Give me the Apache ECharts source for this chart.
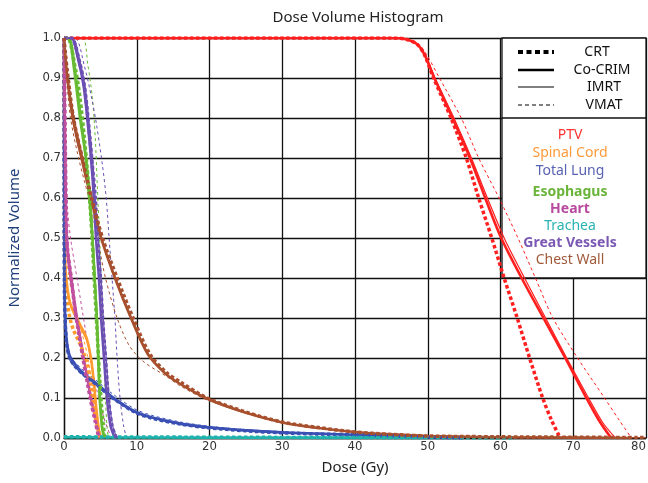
<!DOCTYPE html>
<html>
<head>
<meta charset="utf-8">
<script src="https://cdn.jsdelivr.net/npm/echarts@6/dist/echarts.min.js"></script>
<style>
  html, body { margin: 0; padding: 0; background: #fff; }
  #chart { width: 648px; height: 483px; }
</style>
</head>
<body>
<div id="chart"></div>
<script>
// dose (Gy), normalized volume pairs
const ptvCRT = [[0, 1], [45, 1], [47, 0.997], [48.5, 0.985], [49.5, 0.96], [50.8, 0.9], [53.2, 0.8], [55.3, 0.7], [57, 0.6], [58.8, 0.5], [60.5, 0.4], [62.3, 0.3], [64, 0.2], [65.8, 0.1], [67, 0.045], [68.2, 0]]
const ptvCoCRIM = [[0, 1], [45, 1], [47, 0.997], [48.5, 0.985], [49.5, 0.96], [50.9, 0.9], [53.4, 0.8], [55.8, 0.7], [57.9, 0.6], [60.1, 0.5], [62.9, 0.4], [65.9, 0.3], [68.9, 0.2], [71.8, 0.1], [73.5, 0.045], [75.2, 0]]
const ptvIMRT = [[0, 1], [45, 1], [47, 0.997], [48.5, 0.985], [49.6, 0.96], [51, 0.9], [53.6, 0.8], [56, 0.7], [58.2, 0.6], [60.5, 0.5], [63.3, 0.4], [66.2, 0.3], [69.1, 0.2], [72.1, 0.1], [74, 0.04], [75.8, 0]]
const ptvVMAT = [[0, 1], [45, 1], [47, 0.997], [48.7, 0.985], [49.8, 0.96], [51.6, 0.9], [54.6, 0.8], [57, 0.7], [59.8, 0.6], [62.4, 0.5], [64.8, 0.4], [67.2, 0.3], [70.6, 0.2], [74.3, 0.1], [76.3, 0.045], [78, 0]]

const cordCRT = [[0, 1], [0.03, 0.7], [0.06, 0.5], [0.1, 0.44], [0.3, 0.38], [0.7, 0.31], [1.3, 0.27], [2.2, 0.235], [3.1, 0.19], [3.7, 0.13], [4.2, 0.07], [4.7, 0.02], [5, 0]]
const cordCoCRIM = [[0, 1], [0.03, 0.7], [0.06, 0.52], [0.1, 0.46], [0.3, 0.4], [0.8, 0.34], [1.5, 0.31], [2.3, 0.28], [3.1, 0.25], [3.7, 0.2], [4.1, 0.14], [4.4, 0.08], [4.8, 0.02], [5.1, 0]]
const cordIMRT = [[0, 1], [0.03, 0.7], [0.06, 0.5], [0.1, 0.45], [0.35, 0.39], [0.9, 0.33], [1.6, 0.3], [2.4, 0.27], [3.2, 0.24], [3.8, 0.19], [4.2, 0.13], [4.5, 0.07], [4.9, 0]]
const cordVMAT = [[0, 1], [0.05, 0.7], [0.1, 0.52], [0.3, 0.46], [0.7, 0.4], [1.3, 0.34], [2, 0.29], [2.8, 0.24], [3.4, 0.19], [3.9, 0.13], [4.4, 0.06], [5, 0]]

const lungCRT = [[0, 1], [0.02, 0.6], [0.05, 0.4], [0.15, 0.3], [0.4, 0.23], [0.8, 0.2], [1.5, 0.18], [2.6, 0.16], [4.7, 0.13], [6.7, 0.1], [9.7, 0.065], [12, 0.05], [16, 0.035], [19.7, 0.026], [25, 0.018], [30, 0.013], [35, 0.01], [40, 0.008], [45, 0.005], [50, 0.002], [55, 0]]
const lungCoCRIM = [[0, 1], [0.02, 0.62], [0.05, 0.42], [0.15, 0.31], [0.4, 0.24], [0.8, 0.205], [1.5, 0.185], [2.6, 0.163], [4.7, 0.133], [6.7, 0.102], [9.7, 0.067], [12, 0.052], [16, 0.036], [19.7, 0.027], [25, 0.019], [30, 0.014], [35, 0.011], [40, 0.008], [45, 0.005], [50, 0.002], [55, 0]]
const lungIMRT = [[0, 1], [0.02, 0.58], [0.05, 0.38], [0.15, 0.29], [0.4, 0.225], [0.8, 0.195], [1.5, 0.178], [2.6, 0.158], [4.7, 0.128], [6.7, 0.098], [9.7, 0.064], [12, 0.05], [16, 0.034], [19.7, 0.025], [25, 0.018], [30, 0.013], [35, 0.01], [40, 0.007], [45, 0.004], [50, 0.002], [55, 0]]
const lungVMAT = [[0, 1], [0.02, 0.6], [0.05, 0.4], [0.15, 0.3], [0.4, 0.235], [0.8, 0.205], [1.5, 0.19], [2.6, 0.17], [4.7, 0.14], [6.7, 0.11], [9.7, 0.073], [12, 0.057], [16, 0.04], [19.7, 0.03], [25, 0.021], [30, 0.015], [35, 0.011], [40, 0.008], [45, 0.005], [50, 0.002], [55, 0]]

const esoCRT = [[0, 1], [0.5, 1], [1.5, 0.93], [2.2, 0.85], [2.8, 0.75], [3.3, 0.65], [3.7, 0.55], [4, 0.45], [4.3, 0.35], [4.6, 0.25], [4.9, 0.15], [5.2, 0.07], [5.6, 0]]
const esoCoCRIM = [[0, 1], [0.6, 1], [1.4, 0.92], [2.2, 0.8], [3, 0.7], [3.5, 0.6], [3.9, 0.5], [4.2, 0.4], [4.5, 0.3], [4.7, 0.2], [4.9, 0.1], [5.2, 0.03], [5.5, 0]]
const esoIMRT = [[0, 1], [0.8, 1], [1.6, 0.92], [2.4, 0.8], [3.1, 0.7], [3.6, 0.6], [4, 0.5], [4.3, 0.4], [4.6, 0.3], [4.8, 0.2], [5, 0.1], [5.3, 0.03], [5.7, 0]]
const esoVMAT = [[0, 1], [2.5, 1], [3.3, 0.93], [3.9, 0.85], [4.3, 0.75], [4.6, 0.62], [4.9, 0.5], [5.1, 0.4], [5.3, 0.3], [5.5, 0.2], [5.7, 0.1], [5.9, 0.03], [6.1, 0]]

const heartCRT = [[0, 1], [0.05, 0.95], [0.1, 0.85], [0.2, 0.7], [0.3, 0.55], [0.5, 0.47], [1, 0.4], [1.6, 0.31], [2.6, 0.2], [3.6, 0.1], [4.3, 0.04], [4.8, 0]]
const heartCoCRIM = [[0, 1], [0.05, 0.93], [0.1, 0.82], [0.2, 0.68], [0.3, 0.55], [0.5, 0.46], [1, 0.39], [1.7, 0.3], [2.7, 0.2], [3.7, 0.1], [4.4, 0.04], [4.9, 0]]
const heartIMRT = [[0, 1], [0.05, 0.95], [0.12, 0.85], [0.22, 0.7], [0.35, 0.55], [0.6, 0.47], [1.1, 0.4], [1.8, 0.31], [2.8, 0.2], [3.8, 0.1], [4.5, 0.04], [5, 0]]
const heartVMAT = [[0, 1], [0.1, 0.95], [0.2, 0.85], [0.3, 0.7], [0.5, 0.57], [0.9, 0.5], [1.6, 0.42], [2.5, 0.32], [3.5, 0.21], [4.5, 0.12], [5.5, 0.05], [6.5, 0]]

const tracheaCRT = [[0, 0.003], [20, 0.002], [40, 0.001], [62, 0]]
const tracheaCoCRIM = [[0, 0.002], [20, 0.001], [40, 0.001], [50, 0]]
const tracheaIMRT = [[0, 0.002], [20, 0.001], [40, 0.0005], [48, 0]]
const tracheaVMAT = [[0, 0.002], [20, 0.001], [40, 0.0005], [50, 0]]

const vesselCRT = [[0, 1], [1, 1], [2, 0.95], [2.8, 0.88], [3.4, 0.78], [3.9, 0.68], [4.3, 0.6], [4.6, 0.5], [5, 0.4], [5.3, 0.3], [5.7, 0.2], [6.1, 0.1], [6.6, 0.03], [7.2, 0]]
const vesselCoCRIM = [[0, 1], [1, 1], [1.9, 0.95], [2.7, 0.88], [3.3, 0.78], [3.8, 0.68], [4.1, 0.6], [4.4, 0.5], [4.8, 0.4], [5.1, 0.3], [5.5, 0.2], [5.9, 0.1], [6.4, 0.03], [7, 0]]
const vesselIMRT = [[0, 1], [1.2, 1], [2.1, 0.95], [2.9, 0.88], [3.5, 0.78], [4, 0.68], [4.3, 0.6], [4.7, 0.5], [5.1, 0.4], [5.4, 0.3], [5.8, 0.2], [6.2, 0.1], [6.7, 0.03], [7.3, 0]]
const vesselVMAT = [[0, 1], [1.5, 1], [2.8, 0.93], [3.8, 0.85], [4.5, 0.78], [5.3, 0.68], [5.8, 0.6], [6.2, 0.5], [6.6, 0.4], [7, 0.3], [7.3, 0.2], [7.7, 0.1], [8.2, 0.03], [8.6, 0]]

const wallCRT = [[0, 1], [0.2, 0.96], [0.5, 0.91], [1.3, 0.8], [2.5, 0.7], [3.8, 0.6], [5.3, 0.5], [7.3, 0.4], [9.5, 0.3], [11.8, 0.21], [14, 0.165], [16, 0.14], [19.7, 0.1], [25, 0.065], [30, 0.04], [35, 0.026], [40, 0.015], [45, 0.009], [50, 0.005], [60, 0.003], [70, 0.002], [80, 0.001]]
const wallCoCRIM = [[0, 1], [0.2, 0.95], [0.45, 0.9], [1.2, 0.8], [2.4, 0.7], [3.7, 0.6], [5.1, 0.5], [7, 0.4], [9.2, 0.3], [11.5, 0.21], [14, 0.16], [16, 0.135], [19.7, 0.098], [25, 0.063], [30, 0.039], [35, 0.025], [40, 0.015], [45, 0.009], [50, 0.005], [60, 0.002], [70, 0.001], [78, 0]]
const wallIMRT = [[0, 1], [0.25, 0.95], [0.55, 0.9], [1.4, 0.8], [2.6, 0.7], [3.9, 0.6], [5.2, 0.5], [7.1, 0.4], [9.3, 0.3], [11.6, 0.21], [14, 0.16], [16, 0.135], [19.7, 0.1], [25, 0.064], [30, 0.04], [35, 0.025], [40, 0.015], [45, 0.009], [50, 0.005], [60, 0.002], [70, 0.001], [80, 0]]
const wallVMAT = [[0, 1], [0.15, 0.95], [0.35, 0.9], [0.9, 0.8], [2, 0.7], [3.4, 0.6], [4.6, 0.5], [5.7, 0.4], [7.3, 0.3], [9, 0.23], [11, 0.19], [14, 0.155], [16, 0.13], [19.7, 0.095], [25, 0.062], [30, 0.04], [35, 0.025], [40, 0.015], [45, 0.009], [50, 0.006], [60, 0.003], [70, 0.002], [80, 0.001]]

const structures = ['PTV', 'Spinal Cord', 'Total Lung', 'Esophagus', 'Heart', 'Trachea', 'Great Vessels', 'Chest Wall']
const lineColors = ['#ff1f1f', '#ff9a2e', '#3a4fb4', '#66bb33', '#c04fa0', '#1fb3ad', '#6b4fb3', '#a8502e']
const labelColors = ['#ff3030', '#ff9a3a', '#5a62b4', '#6ab43a', '#b84aa0', '#2ab2b2', '#7a58b4', '#a05a3a']
const labelBold = [false, false, false, true, true, false, true, false]
const techniques = ['CRT', 'Co-CRIM', 'IMRT', 'VMAT']

const curves = [
  [ptvCRT, ptvCoCRIM, ptvIMRT, ptvVMAT],
  [cordCRT, cordCoCRIM, cordIMRT, cordVMAT],
  [lungCRT, lungCoCRIM, lungIMRT, lungVMAT],
  [esoCRT, esoCoCRIM, esoIMRT, esoVMAT],
  [heartCRT, heartCoCRIM, heartIMRT, heartVMAT],
  [tracheaCRT, tracheaCoCRIM, tracheaIMRT, tracheaVMAT],
  [vesselCRT, vesselCoCRIM, vesselIMRT, vesselVMAT],
  [wallCRT, wallCoCRIM, wallIMRT, wallVMAT],
]

const techStyle = [
  { width: 3.5, type: [3.5, 2.5] },
  { width: 2.6, type: 'solid' },
  { width: 1.2, type: 'solid' },
  { width: 1, type: [3, 3] },
]

const font = '"Noto Sans", "Open Sans", sans-serif'
const tickFont = '"DejaVu Sans Condensed", "Liberation Sans Narrow", sans-serif'

const chart = echarts.init(document.getElementById('chart'))

const series = []
// thin ones first so the thick dotted CRT sits on top
;[3, 2, 1, 0].forEach((ti) => {
  structures.forEach((name, si) => {
    series.push({
      name: name + ' ' + techniques[ti],
      type: 'line',
      data: curves[si][ti],
      showSymbol: false,
      smooth: 0.3,
      lineStyle: {
        color: lineColors[si],
        width: techStyle[ti].width,
        type: techStyle[ti].type,
      },
    })
  })
})

// legend box drawn by hand, like the original
const sampleY = [52, 70, 87, 105]
const techLabelX = [597, 602, 604, 604]
const organY = [135, 153, 171, 192, 209, 226, 243, 260]
const graphic = [
  {
    type: 'rect',
    z: 1,
    shape: { x: 502, y: 38, width: 144, height: 240 },
    style: { fill: '#fff', stroke: '#111', lineWidth: 1.3 },
  },
  {
    type: 'line',
    z: 1,
    shape: { x1: 502, y1: 118, x2: 646, y2: 118 },
    style: { stroke: '#111', lineWidth: 1.3 },
  },
]
techniques.forEach((t, i) => {
  graphic.push({
    type: 'line',
    z: 1,
    shape: { x1: 518, y1: sampleY[i], x2: 554, y2: sampleY[i] },
    style: {
      stroke: '#000',
      lineWidth: i === 0 ? 4 : techStyle[i].width,
      lineDash: i === 0 ? [5, 3.5] : (i === 3 ? [4, 3] : null),
    },
  })
  graphic.push({
    type: 'text',
    z: 1,
    x: techLabelX[i],
    y: sampleY[i],
    style: {
      text: t,
      fill: '#111',
      font: '14px ' + font,
      textAlign: 'center',
      textVerticalAlign: 'middle',
    },
  })
})
structures.forEach((name, i) => {
  graphic.push({
    type: 'text',
    z: 1,
    x: 570,
    y: organY[i],
    style: {
      text: name,
      fill: labelColors[i],
      font: (labelBold[i] ? 'bold ' : '') + '14px ' + font,
      textAlign: 'center',
      textVerticalAlign: 'middle',
    },
  })
})

chart.setOption({
  animation: false,
  backgroundColor: '#fff',
  title: {
    text: 'Dose Volume Histogram',
    left: 353,
    top: 5,
    textAlign: 'center',
    textStyle: { fontFamily: font, fontSize: 15, fontWeight: 'normal', color: '#222' },
  },
  grid: { left: 64, right: 2, top: 38, bottom: 45, outerBoundsMode: 'none' },
  xAxis: {
    type: 'value',
    min: 0,
    max: 80,
    interval: 10,
    name: 'Dose (Gy)',
    nameLocation: 'middle',
    nameGap: 22,
    nameTextStyle: { fontFamily: font, fontSize: 15, color: '#222' },
    axisLine: { lineStyle: { color: '#111', width: 1.3 } },
    axisTick: { show: false },
    axisLabel: {
      fontFamily: tickFont,
      fontSize: 13,
      color: '#333',
      margin: 2,
      hideOverlap: false,
      alignMaxLabel: 'right',
    },
    splitLine: { show: true, lineStyle: { color: '#111', width: 1.3 } },
  },
  yAxis: {
    type: 'value',
    min: 0,
    max: 1,
    interval: 0.1,
    name: 'Normalized Volume',
    nameLocation: 'middle',
    nameGap: 42,
    nameTextStyle: { fontFamily: font, fontSize: 15, color: '#1f3f7a' },
    axisLine: { show: true, lineStyle: { color: '#111', width: 1.3 } },
    axisTick: { show: false },
    axisLabel: {
      fontFamily: tickFont,
      fontSize: 13,
      color: '#333',
      margin: 3,
      formatter: (v) => v.toFixed(1),
    },
    splitLine: { show: true, lineStyle: { color: '#111', width: 1.3 } },
  },
  graphic: graphic,
  series: series,
})
</script>
</body>
</html>
